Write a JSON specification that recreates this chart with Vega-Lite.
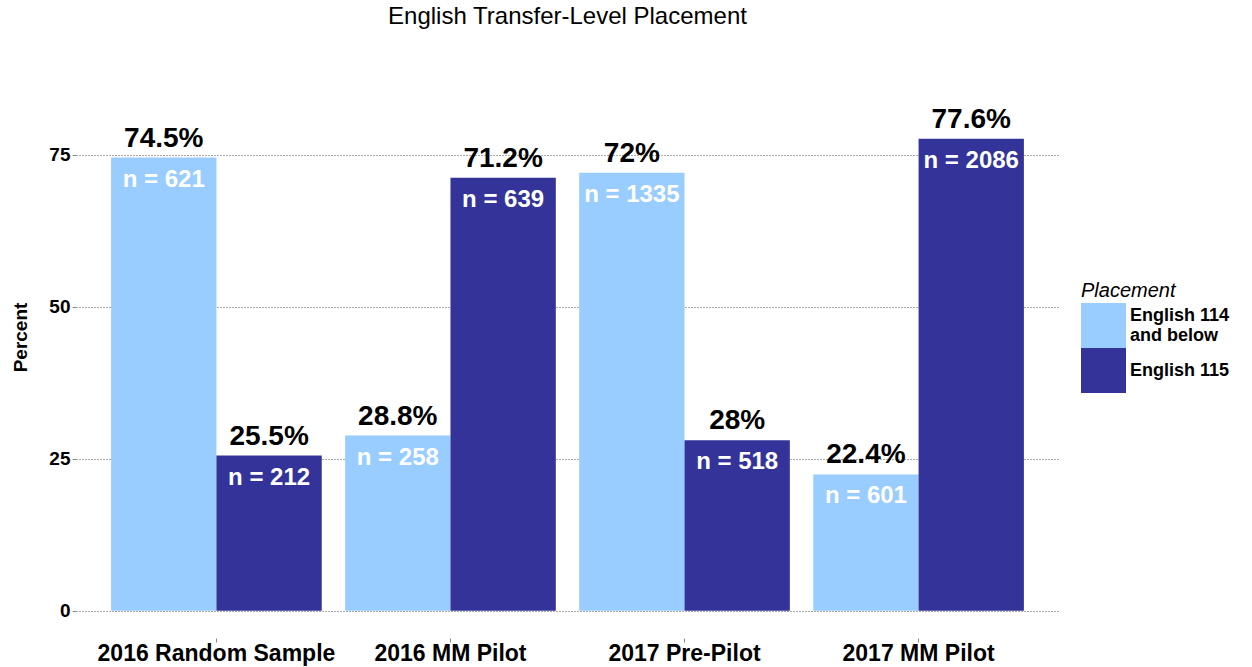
{
  "$schema": "https://vega.github.io/schema/vega-lite/v6.json",
  "width": 983,
  "height": 602,
  "autosize": {"type": "none"},
  "padding": {"left": 76, "top": 36, "right": 193, "bottom": 29},
  "background": "white",
  "title": {"text": "English Transfer-Level Placement", "anchor": "middle", "frame": "group", "fontSize": 24, "fontWeight": "normal", "font": "Liberation Sans", "color": "black", "offset": 0, "baseline": "alphabetic", "dy": 12},
  "config": {
    "view": {"stroke": null},
    "font": "Liberation Sans",
    "axis": {"domain": false, "tickColor": "#888888", "tickSize": 4, "labelColor": "black", "labelFontWeight": "bold", "titleColor": "black"}
  },
  "data": {"values": [
    {"Group": "2016 Random Sample", "Placement": "English 114 and below", "pct": 74.5, "pct_text": "74.5%", "n_text": "n = 621"},
    {"Group": "2016 Random Sample", "Placement": "English 115", "pct": 25.5, "pct_text": "25.5%", "n_text": "n = 212"},
    {"Group": "2016 MM Pilot", "Placement": "English 114 and below", "pct": 28.8, "pct_text": "28.8%", "n_text": "n = 258"},
    {"Group": "2016 MM Pilot", "Placement": "English 115", "pct": 71.2, "pct_text": "71.2%", "n_text": "n = 639"},
    {"Group": "2017 Pre-Pilot", "Placement": "English 114 and below", "pct": 72, "pct_text": "72%", "n_text": "n = 1335"},
    {"Group": "2017 Pre-Pilot", "Placement": "English 115", "pct": 28, "pct_text": "28%", "n_text": "n = 518"},
    {"Group": "2017 MM Pilot", "Placement": "English 114 and below", "pct": 22.4, "pct_text": "22.4%", "n_text": "n = 601"},
    {"Group": "2017 MM Pilot", "Placement": "English 115", "pct": 77.6, "pct_text": "77.6%", "n_text": "n = 2086"}
  ]},
  "encoding": {
    "x": {"field": "Group", "type": "nominal", "sort": ["2016 Random Sample", "2016 MM Pilot", "2017 Pre-Pilot", "2017 MM Pilot"],
          "scale": {"paddingInner": 0.1, "paddingOuter": 0.15},
          "axis": {"title": null, "labelAngle": 0, "labelFontSize": 23, "labelPadding": 0, "labelLimit": 400, "grid": false}},
    "xOffset": {"field": "Placement", "type": "nominal", "sort": ["English 114 and below", "English 115"], "scale": {"paddingInner": 0, "paddingOuter": 0}},
    "y": {"field": "pct", "type": "quantitative", "scale": {"domain": [-4.5, 94.5], "nice": false, "zero": false},
          "axis": {"title": "Percent", "titleFontSize": 19, "titleFontWeight": "bold", "titlePadding": 18, "values": [0, 25, 50, 75], "labelFontSize": 19, "labelPadding": 2, "grid": true, "gridDash": [1, 2], "gridColor": "#555555", "gridWidth": 1}}
  },
  "layer": [
    {"mark": {"type": "bar"},
     "encoding": {
       "y2": {"datum": 0},
       "color": {"field": "Placement", "type": "nominal",
                 "scale": {"domain": ["English 114 and below", "English 115"], "range": ["#99CCFF", "#333399"]},
                 "legend": {"orient": "none", "legendX": 1005, "legendY": 245, "title": "Placement", "titleFontStyle": "italic", "titleFontWeight": "normal", "titleFontSize": 20, "titleColor": "black", "titlePadding": 2,
                            "symbolType": "square", "symbolSize": 2025, "symbolStrokeWidth": 0, "symbolOpacity": 1, "rowPadding": -1, "labelFontSize": 18, "labelFontWeight": "bold", "labelColor": "black", "labelOffset": 4,
                            "labelExpr": "datum.label == 'English 114 and below' ? ['English 114', 'and below'] : datum.label",
                            "encode": {"labels": {"update": {"dy": {"signal": "datum.value == 'English 114 and below' ? -10 : 0"}, "lineHeight": {"value": 20}}}}}}
     }},
    {"mark": {"type": "text", "fontSize": 28, "fontWeight": "bold", "color": "black", "baseline": "alphabetic", "dy": -11},
     "encoding": {"text": {"field": "pct_text"}}},
    {"mark": {"type": "text", "fontSize": 24, "fontWeight": "bold", "color": "white", "baseline": "alphabetic", "dy": 29},
     "encoding": {"text": {"field": "n_text"}}}
  ]
}
